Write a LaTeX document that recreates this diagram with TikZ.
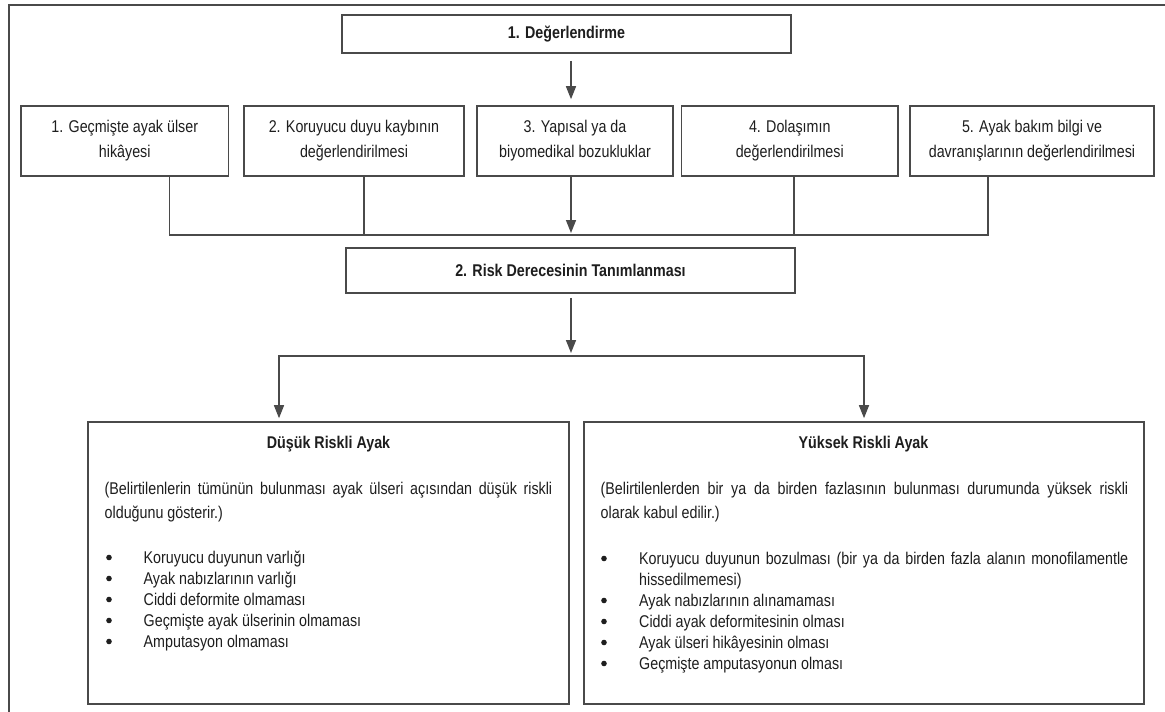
\documentclass[tikz,border=0pt]{standalone}
\usepackage{fontspec}
\setmainfont{Liberation Sans}[FakeStretch=0.84]
\usetikzlibrary{arrows.meta}
\definecolor{linegray}{HTML}{4A4A4A}
\definecolor{txt}{HTML}{1E1E1E}
\tikzset{
  box/.style={draw=linegray, line width=1.6pt, rectangle, inner sep=0pt, align=center, text=txt, font=\fontsize{17}{25}\selectfont},
  boldbox/.style={box, font=\fontsize{17}{25}\selectfont\bfseries},
  conn/.style={draw=linegray, line width=1.5pt},
  arr/.style={conn, -{Triangle[width=10pt,length=13pt]}},
  txtn/.style={inner sep=0pt, text=txt, font=\fontsize{17}{21}\selectfont},
  titlen/.style={txtn, font=\fontsize{17}{21}\selectfont\bfseries},
  bulletdot/.style={fill=txt},
}
\begin{document}
\begin{tikzpicture}[x=1pt,y=-1pt]
\useasboundingbox (0,0) rectangle (1165,712);
\fill[white] (0,0) rectangle (1165,712);
\draw[linegray, line width=2pt] (8.5,712) -- (8.5,5) -- (1165,5);

% level 1
\node[boldbox, minimum width=449pt, minimum height=38pt] (top) at (566.5,34) {1. Değerlendirme};

% row of assessments
\node[box, minimum width=207.5pt, minimum height=70pt] (b1) at (124.75,141) {1. Geçmişte ayak ülser\\hikâyesi};
\node[box, minimum width=220pt, minimum height=70pt] (b2) at (354,141) {2. Koruyucu duyu kaybının\\değerlendirilmesi};
\node[box, minimum width=196pt, minimum height=70pt] (b3) at (575,141) {3. Yapısal ya da\\biyomedikal bozukluklar};
\node[box, minimum width=216.5pt, minimum height=70pt] (b4) at (789.75,141) {4. Dolaşımın\\değerlendirilmesi};
\node[box, minimum width=244pt, minimum height=70pt] (b5) at (1032,141) {5. Ayak bakım bilgi ve\\davranışlarının değerlendirilmesi};

\coordinate (c3) at (571,0);
\draw[arr, shorten <=7pt, shorten >=6pt] (top.south -| c3) -- (b3.north -| c3);

\coordinate (jL) at (169.5,235);
\coordinate (j2) at (364,235);
\coordinate (j3) at (571,235);
\coordinate (j4) at (794,235);
\coordinate (jR) at (988,235);
\draw[conn] (b1.south -| jL) -- (jL) -- (jR) -- (b5.south -| jR);
\draw[conn] (b2.south -| j2) -- (j2);
\draw[conn] (b4.south -| j4) -- (j4);
\draw[arr, shorten >=2pt] (b3.south -| j3) -- (j3);

% level 2
\node[boldbox, minimum width=449pt, minimum height=45pt] (risk) at (570.5,270.5) {2. Risk Derecesinin Tanımlanması};

\node[box, minimum width=481pt, minimum height=282pt] (low) at (328.5,563) {};
\node[box, minimum width=560pt, minimum height=282pt] (high) at (864,563) {};

\coordinate (k) at (571,356);
\coordinate (kL) at (279,356);
\coordinate (kR) at (864,356);
\draw[arr, shorten <=4pt, shorten >=3pt] (risk.south -| k) -- (k);
\draw[arr, shorten >=3pt] (k) -- (kL) -- (low.north -| kL);
\draw[arr, shorten >=3pt] (k) -- (kR) -- (high.north -| kR);

% low risk contents
\node[titlen, anchor=base] (lowT) at (328.5,448) {Düşük Riskli Ayak};
\node[txtn, anchor=base west] (lowP1) at (104.5,494) {\makebox[447.5pt][s]{(Belirtilenlerin tümünün bulunması ayak ülseri açısından düşük riskli}};
\node[txtn, anchor=base west] (lowP2) at (104.5,518) {olduğunu gösterir.)};
\node[txtn, anchor=base west] (lowB1) at (143.5,563) {Koruyucu duyunun varlığı};
\node[txtn, anchor=base west] (lowB2) at (143.5,584) {Ayak nabızlarının varlığı};
\node[txtn, anchor=base west] (lowB3) at (143.5,605) {Ciddi deformite olmaması};
\node[txtn, anchor=base west] (lowB4) at (143.5,626) {Geçmişte ayak ülserinin olmaması};
\node[txtn, anchor=base west] (lowB5) at (143.5,647) {Amputasyon olmaması};
\foreach \yy in {563,584,605,626,647} \fill[bulletdot] (109,\yy-5.5) circle (2.8pt);

% high risk contents
\node[titlen, anchor=base] (highT) at (863.5,448) {Yüksek Riskli Ayak};
\node[txtn, anchor=base west] (highP1) at (600.5,494) {\makebox[527.5pt][s]{(Belirtilenlerden bir ya da birden fazlasının bulunması durumunda yüksek riskli}};
\node[txtn, anchor=base west] (highP2) at (600.5,518) {olarak kabul edilir.)};
\node[txtn, anchor=base west] (highB1) at (639,564) {\makebox[489pt][s]{Koruyucu duyunun bozulması (bir ya da birden fazla alanın monofilamentle}};
\node[txtn, anchor=base west] (highB1b) at (639,585) {hissedilmemesi)};
\node[txtn, anchor=base west] (highB2) at (639,606) {Ayak nabızlarının alınamaması};
\node[txtn, anchor=base west] (highB3) at (639,627) {Ciddi ayak deformitesinin olması};
\node[txtn, anchor=base west] (highB4) at (639,648) {Ayak ülseri hikâyesinin olması};
\node[txtn, anchor=base west] (highB5) at (639,669) {Geçmişte amputasyonun olması};
\foreach \yy in {564,606,627,648,669} \fill[bulletdot] (604,\yy-5.5) circle (2.8pt);
\end{tikzpicture}
\end{document}
